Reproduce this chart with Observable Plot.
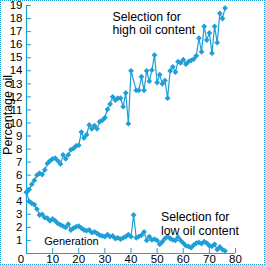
<!DOCTYPE html>
<html><head><meta charset="utf-8">
<script src="https://cdn.jsdelivr.net/npm/d3@7"></script>
<script src="https://cdn.jsdelivr.net/npm/@observablehq/plot@0.6"></script>
<style>
html,body{margin:0;padding:0;background:#fff;}
#wrap{position:relative;width:265px;height:265px;overflow:hidden;}
#frame{position:absolute;left:0;top:0;width:265px;height:265px;box-sizing:border-box;border:1px dotted #1e9fd6;pointer-events:none;z-index:2;}
#wrap svg{position:absolute;left:0;top:0;}
</style></head><body><div id="wrap"><div id="frame"></div></div>
<script>
const highGen = [0,1,2,3,4,5,6,7,8,9,10,11,12,13,14,15,16,17,18,19,20,21,22,23,24,25,26,27,28,29,30,31,32,33,34,35,36,37,38,39,40,42,43,44,45,46,47,48,49,50,51,52,53,54,55,56,57,58,59,60,61,62,63,64,65,66,67,68,69,70,71,72,73,74,75,76];
const highOil = [4.7,4.9,5.3,5.6,6.0,6.15,6.05,6.4,6.9,7.1,7.25,7.3,7.1,6.85,7.55,7.25,7.55,7.95,8.05,8.25,8.3,9.3,8.85,9.1,9.85,9.55,9.8,9.55,10.1,10.2,10.4,11.05,11.45,12.0,11.75,11.9,11.9,11.25,12.3,9.95,14.0,12.5,12.5,13.55,12.5,14.0,13.2,14.05,15.2,13.1,13.7,13.0,13.25,11.9,14.0,14.3,13.9,14.7,14.6,14.85,14.5,14.7,14.8,14.9,15.15,16.5,15.45,17.4,16.35,16.9,15.35,17.4,16.15,18.4,18.0,18.8];
const lowGen = [0,1,2,3,4,5,6,7,8,9,10,11,12,13,14,15,16,17,18,19,20,21,22,23,24,25,26,27,28,29,30,31,32,33,34,35,36,37,38,39,40,41,42,43,44,45,46,47,48,49,50,51,52,53,54,55,56,57,58,59,60,61,62,63,64,65,66,67,68,69,70,71,72,73,74,75,76];
const lowOil = [4.7,4.0,3.85,3.75,3.4,2.95,3.0,2.75,2.7,2.5,2.65,2.5,2.3,2.2,2.1,2.0,2.25,1.8,1.95,2.05,2.1,1.95,1.8,1.75,1.8,1.6,1.65,1.55,1.4,1.35,1.3,1.45,1.3,1.35,1.15,1.2,1.1,1.2,1.3,1.45,1.3,2.95,1.2,1.3,1.4,1.65,1.0,1.3,1.05,1.1,1.0,0.7,0.9,1.15,1.3,1.15,1.05,1.0,1.25,1.0,0.8,0.6,0.55,0.45,0.65,0.8,0.85,0.75,0.9,0.8,0.6,0.55,0.7,0.3,0.5,0.3,0.2];
const yTicks = [1,2,3,4,5,6,7,8,9,10,11,12,13,14,15,16,17,18,19];
const xTicks = [10,20,30,40,50,60,70,80];
const yLabel = "Percentage oil";
const xLabel = "Generation";
const highNote = "Selection for\nhigh oil content";
const lowNote = "Selection for\nlow oil content";

const high = highGen.map((g, i) => ({gen: g, oil: highOil[i]}));
const low = lowGen.map((g, i) => ({gen: g, oil: lowOil[i]}));
const blue = "#1e9fd6";
const W = 265, H = 265, mL = 26, mR = 30, mT = 5, mB = 12;
const fw = W - mL - mR, fh = H - mT - mB;

const chart = Plot.plot({
  width: W, height: H,
  marginLeft: mL, marginRight: mR, marginTop: mT, marginBottom: mB,
  style: {fontFamily: "'Liberation Sans', Arial, sans-serif", fontSize: "11.5px", background: "transparent", overflow: "visible"},
  x: {domain: [0, 80], axis: null},
  y: {domain: [0, 19], axis: null},
  marks: [
    Plot.tickY(yTicks, {y: d => d, stroke: blue, insetRight: fw - 5}),
    Plot.tickX(xTicks, {x: d => d, stroke: blue, insetTop: fh - 5}),
    Plot.ruleX([0], {stroke: blue, strokeWidth: 1.2}),
    Plot.ruleY([0], {stroke: blue, strokeWidth: 1.2}),
    Plot.axisY(yTicks, {tickSize: 0, tickPadding: 4, label: null, fontSize: 11.5, fill: "black"}),
    Plot.axisX(xTicks, {tickSize: 0, tickPadding: 1, label: null, fontSize: 11.5, fill: "black"}),
    Plot.text([0], {x: 0, y: 0, text: d => String(d), dx: -5.5, dy: 5.5, fontSize: 11.5, fill: "black"}),
    Plot.line(high, {x: "gen", y: "oil", stroke: blue, strokeWidth: 1.2}),
    Plot.dot(high, {x: "gen", y: "oil", symbol: "diamond2", fill: blue, r: 2.6}),
    Plot.line(low, {x: "gen", y: "oil", stroke: blue, strokeWidth: 1.2}),
    Plot.dot(low, {x: "gen", y: "oil", symbol: "diamond2", fill: blue, r: 2.6}),
    Plot.text([yLabel], {text: d => d, frameAnchor: "left", rotate: -90, dx: -18.5, dy: -14.5, fontSize: 12.5, fill: "black", textAnchor: "middle"}),
    Plot.text([xLabel], {text: d => d, frameAnchor: "bottom-left", dx: 45, dy: -8.5, fontSize: 11, fill: "black", textAnchor: "middle"}),
    Plot.text([highNote], {text: d => d, frameAnchor: "top-left", dx: 86, dy: 17.5, fontSize: 12.3, fill: "black", textAnchor: "start", lineAnchor: "middle", lineHeight: 1.1}),
    Plot.text([lowNote], {text: d => d, frameAnchor: "bottom-left", dx: 134.5, dy: -30, fontSize: 12.3, fill: "black", textAnchor: "start", lineAnchor: "middle", lineHeight: 1.1})
  ]
});
document.getElementById("wrap").appendChild(chart);
</script></body></html>
